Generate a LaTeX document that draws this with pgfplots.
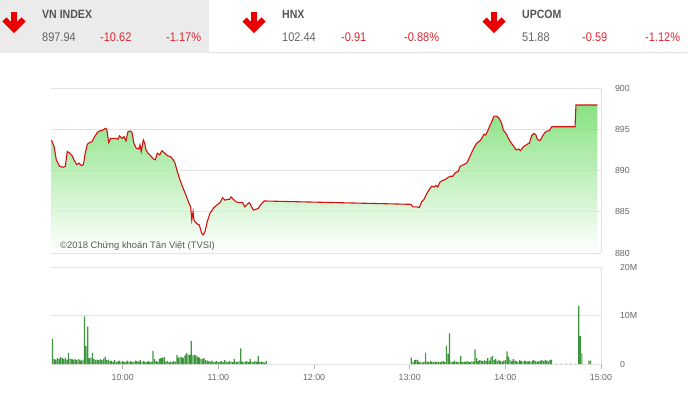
\documentclass[border=0pt]{standalone}
\usepackage{pgfplots}
\pgfplotsset{compat=1.18}
\usepackage{pgfplotstable}
\usepackage{fontspec}
\setmainfont{Liberation Sans}
\newfontfamily\cond{Liberation Sans}[FakeStretch=0.88]

\definecolor{gridc}{RGB}{226,226,226}
\definecolor{tickc}{RGB}{102,102,102}
\definecolor{headbg}{RGB}{235,235,235}
\definecolor{sepc}{RGB}{225,225,225}
\definecolor{labgrey}{RGB}{85,85,85}
\definecolor{numgrey}{RGB}{100,100,100}
\definecolor{chgred}{RGB}{220,38,48}
\definecolor{arrowred}{RGB}{232,0,0}
\definecolor{linered}{RGB}{212,16,16}
\definecolor{areatop}{RGB}{96,216,88}
\definecolor{barc}{RGB}{60,150,60}
\definecolor{copyc}{RGB}{90,90,90}

% time in minutes after 9:00, VN-Index value
\pgfplotstableread{
t p
15.2 893.7
17 892.9
18.3 891.3
20.4 890.5
22.5 890.4
24 890.5
25.2 892.3
26.7 892.1
28.2 891.8
29.9 891.1
31.3 890.7
32.6 890.9
34 890.6
35.3 890.7
36.5 892.1
37.8 893.2
39.3 893.4
40.7 893.5
42.4 894.1
44 894.6
45.5 894.8
47.6 894.9
49 895.1
50 895.0
51.2 893.4
52.5 893.9
55 893.9
57 893.8
58 894.2
59.5 893.9
60.8 894.1
62 893.6
63.3 894.7
64.6 894.8
65.8 894.6
67 893.3
68.5 892.7
70 892.6
70.8 893.1
71.6 892.3
72.9 893.7
73.8 893.3
74.6 892.5
75.8 892.1
77.5 891.8
79.2 891.4
80.4 891.3
81.7 892.1
83.2 891.9
84.6 892.4
86.3 892.1
88 891.8
89.6 891.7
90.9 891.5
92.6 891.0
94.2 889.9
96 888.8
98 887.8
100.1 886.8
101.6 886.0
102.6 885.6
103.3 884.0
104.1 885.0
104.7 884.0
105.3 883.8
106.8 883.5
108 883.4
109.5 882.4
110.5 882.2
111.6 882.6
113 883.8
114.7 884.8
116.8 885.4
118.9 885.8
121 886.1
122.7 886.7
124.2 886.4
125.6 886.5
126.9 886.5
127.9 886.8
129.4 886.5
131 886.2
133.6 886.1
135.2 886.1
136.5 885.6
138.1 885.9
139.4 886.1
140.3 885.8
141.9 885.2
143.6 885.3
145 885.4
147.1 886.0
148.8 886.3
150 886.3
240.8 885.9
241.9 885.6
244.4 885.6
246 885.5
247.5 886.2
249 886.5
250.7 887.2
252.3 887.7
253.8 888.1
255.3 888.0
256.5 888.2
257.6 888.0
259 888.6
260.7 888.8
262.2 888.9
263.6 889.1
265.3 889.3
267 889.3
268.4 889.7
270.5 889.9
271.6 890.5
273.7 890.7
275.8 890.9
277.8 891.7
279.9 892.6
282 893.3
284.1 893.6
285.2 893.9
286.6 894.4
287.7 894.3
288.7 894.7
290 895.3
291.4 895.9
292.9 896.6
294.6 896.6
296.2 896.3
297.7 895.7
298.7 894.9
300.4 894.5
301.9 893.9
303.4 893.4
305 893.0
306.7 892.5
308.1 892.6
309.6 892.4
310.9 892.8
312.3 893.0
313.8 893.2
315 893.3
316.5 894.2
318 894.5
319.2 894.3
320 893.8
321.7 893.6
323.4 894.2
324.8 894.6
326.3 894.8
327.5 894.8
329.1 895.3
343.7 895.3
344.3 897.94
357.7 897.94
}\price

% time in minutes after 9:00, volume in millions
\pgfplotstableread{
t v
16 5.2
17 1.0
18 0.9
19 1.2
20 1.0
21 1.4
22 1.2
23 1.0
24 1.3
25 0.9
26 2.3
27 1.1
28 1.0
29 0.9
30 1.0
31 0.8
32 1.0
33 0.9
34 0.7
35 0.9
36 9.8
37 3.7
38 7.7
39 1.2
40 1.3
41 2.3
42 1.0
43 0.8
44 0.9
45 0.8
46 1.0
47 0.8
48 1.1
49 1.5
50 0.8
51 0.9
52 0.6
53 0.7
54 0.5
55 0.8
56 0.4
57 0.6
58 0.7
59 0.5
60 0.6
61 0.4
62 0.5
63 0.7
64 0.5
65 0.6
66 0.4
67 0.5
68 0.7
69 0.6
70 0.5
71 0.8
72 0.4
73 0.6
74 0.5
75 0.4
76 0.6
77 0.5
78 0.4
79 2.7
80 1.0
81 0.6
82 0.5
83 1.1
84 1.2
85 1.3
86 1.4
87 0.5
88 0.6
89 0.4
90 0.5
91 0.4
92 0.6
93 0.5
94 1.9
95 1.3
96 1.5
97 1.4
98 1.2
99 1.8
100 2.3
101 2.0
102 1.9
103 4.7
104 1.8
105 1.9
106 1.8
107 1.5
108 1.3
109 1.1
110 1.0
111 1.2
112 0.8
113 0.7
114 0.6
115 0.5
116 0.7
117 0.4
118 0.5
119 0.6
120 0.4
121 0.5
122 0.6
123 0.4
124 0.8
125 0.5
126 0.4
127 0.6
128 0.5
129 0.4
130 1.0
131 0.5
132 0.4
133 0.6
134 3.2
135 0.5
136 0.4
137 0.5
138 0.6
139 0.4
140 1.0
141 0.5
142 0.4
143 0.6
144 0.5
145 1.7
146 0.4
147 0.5
148 0.4
149 0.3
150 0.6
241 1.3
242 0.4
243 0.8
244 0.9
245 0.8
246 0.4
247 0.5
248 0.3
249 0.5
250 2.3
251 0.5
252 0.4
253 0.6
254 0.5
255 0.4
256 0.5
257 0.4
258 0.5
259 0.4
260 0.5
261 0.6
262 0.4
263 3.8
264 2.1
265 6.3
266 0.5
267 0.4
268 0.7
269 0.5
270 0.4
271 0.5
272 1.7
273 0.4
274 0.5
275 0.4
276 0.6
277 0.5
278 0.4
279 0.6
280 0.5
281 3.0
282 1.2
283 0.6
284 0.8
285 0.7
286 0.6
287 0.8
288 0.6
289 1.2
290 0.7
291 1.4
292 1.7
293 0.8
294 1.0
295 0.6
296 0.8
297 0.6
298 0.5
299 0.7
300 0.8
301 2.6
302 1.5
303 0.9
304 0.6
305 1.0
306 0.7
307 0.6
308 0.5
309 0.8
310 0.6
311 0.5
312 0.7
313 0.6
314 0.5
315 0.6
316 0.5
317 0.7
318 0.8
319 0.6
320 0.5
321 0.6
322 0.7
323 0.8
324 0.6
325 0.8
326 0.7
327 0.6
328 0.8
329 0.9
332 0.1
335 0.1
338 0.1
341 0.1
344 0.1
346 12.0
347 5.8
348 2.2
352.5 0.7
353.5 0.7
}\vol

\begin{document}
\begin{tikzpicture}[x=1pt,y=1pt]
\useasboundingbox (0,0) rectangle (688,392);
% header
\fill[headbg] (0,339) rectangle (209,392);
\draw[sepc, line width=0.8pt] (209,340) -- (688,340);
\foreach \dx in {0,240,480}{
  \draw[arrowred, line width=6pt] (\dx+14,380) -- (\dx+14,365);
  \draw[arrowred, line width=6pt, line join=miter] (\dx+4.5,372.5) -- (\dx+14,363) -- (\dx+23.5,372.5);
}
\begin{scope}[every node/.style={anchor=base west, inner sep=0pt}]
\node[text=labgrey, font=\cond\bfseries\fontsize{12}{14}\selectfont] at (42,373) {VN INDEX};
\node[text=labgrey, font=\cond\bfseries\fontsize{12}{14}\selectfont] at (282,373) {HNX};
\node[text=labgrey, font=\cond\bfseries\fontsize{12}{14}\selectfont] at (522,373) {UPCOM};
\node[text=numgrey, font=\cond\fontsize{12.5}{14}\selectfont] at (42,350) {897.94};
\node[text=chgred, font=\cond\fontsize{12.5}{14}\selectfont] at (100,350) {-10.62};
\node[text=chgred, font=\cond\fontsize{12.5}{14}\selectfont] at (166,350) {-1.17\%};
\node[text=numgrey, font=\cond\fontsize{12.5}{14}\selectfont] at (282,350) {102.44};
\node[text=chgred, font=\cond\fontsize{12.5}{14}\selectfont] at (341,350) {-0.91};
\node[text=chgred, font=\cond\fontsize{12.5}{14}\selectfont] at (404,350) {-0.88\%};
\node[text=numgrey, font=\cond\fontsize{12.5}{14}\selectfont] at (522,350) {51.88};
\node[text=chgred, font=\cond\fontsize{12.5}{14}\selectfont] at (582,350) {-0.59};
\node[text=chgred, font=\cond\fontsize{12.5}{14}\selectfont] at (645,350) {-1.12\%};
\end{scope}

% price chart
\begin{axis}[
  at={(51pt,139pt)}, anchor=south west, scale only axis,
  width=550pt, height=165pt,
  xmin=15, xmax=360, ymin=880, ymax=900,
  axis x line*=bottom, axis y line*=right,
  axis line style={-, draw=gridc, line width=0.8pt},
  xtick=\empty,
  ytick={880,885,890,895,900}, yticklabels={880,885,890,895,900},
  ytick style={draw=none}, major tick length=0pt,
  ymajorgrids, grid style={draw=gridc, line width=0.8pt},
  yticklabel style={anchor=west, xshift=10.5pt, text=tickc, font=\fontsize{8.8}{10}\selectfont},
]
\addplot[draw=none, top color=areatop, bottom color=white, fill opacity=0.75]
  table[x=t, y=p] {\price} -- (axis cs:357.7,880) -- (axis cs:15.2,880) -- cycle;
\addplot[linered, line width=1.1pt, no marks] table[x=t, y=p] {\price};
\end{axis}
\node[anchor=base west, inner sep=0pt, text=copyc, font=\fontsize{9.4}{11}\selectfont] at (60,144) {©2018 Chứng khoán Tân Việt (TVSI)};

% volume chart
\begin{axis}[
  at={(51pt,28pt)}, anchor=south west, scale only axis,
  width=550pt, height=97pt,
  xmin=15, xmax=360, ymin=0, ymax=20,
  axis x line*=bottom, axis y line*=right,
  axis line style={-, draw=gridc, line width=0.8pt},
  xtick={60,120,180,240,300,360},
  xticklabels={10:00,11:00,12:00,13:00,14:00,15:00},
  tick align=outside, major tick length=5pt,
  xtick style={draw=gridc!80!black, line width=0.8pt},
  ytick={0,10,20}, yticklabels={0,10M,20M}, ytick style={draw=none},
  ymajorgrids, grid style={draw=gridc, line width=0.8pt},
  yticklabel style={anchor=west, xshift=10.5pt, text=tickc, font=\fontsize{8.8}{10}\selectfont},
  xticklabel style={text=tickc, font=\fontsize{8.8}{10}\selectfont, yshift=-1.5pt},
]
\addplot[ybar, bar width=0.75, fill=barc, draw=none] table[x=t, y=v] {\vol};
\end{axis}
\end{tikzpicture}
\end{document}
